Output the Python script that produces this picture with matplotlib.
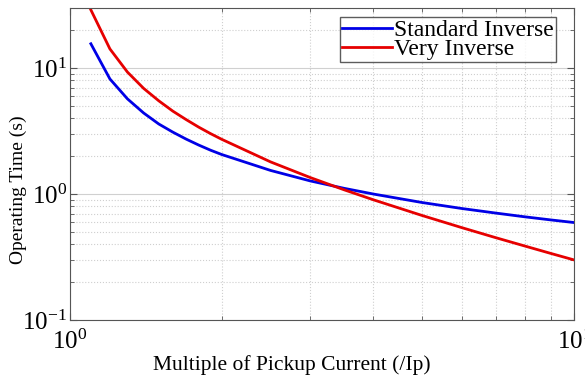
import matplotlib
matplotlib.use("Agg")
import matplotlib.pyplot as plt
from matplotlib.ticker import LogLocator, NullFormatter

plt.rcParams['font.family'] = ['Liberation Serif', 'DejaVu Serif']
plt.rcParams['mathtext.fontset'] = 'stix'

# multiple of pickup current
multiple = [1.1, 1.2, 1.3, 1.4, 1.5, 1.6, 1.7, 1.8, 1.9, 2.0,
            2.5, 3.0, 3.5, 4.0, 5.0, 6.0, 7.0, 8.0, 9.0, 10.0]
# operating times (s)
standard_inverse = [15.6, 8.2, 5.7, 4.4, 3.6, 3.1, 2.73, 2.45, 2.23, 2.06,
                    1.54, 1.27, 1.11, 1.0, 0.856, 0.767, 0.706, 0.659, 0.623, 0.594]
very_inverse = [29.0, 14.2, 9.3, 6.9, 5.5, 4.55, 3.9, 3.4, 3.02, 2.72,
                1.8, 1.35, 1.08, 0.9, 0.675, 0.54, 0.45, 0.386, 0.3375, 0.3]

fig = plt.figure(figsize=(5.85, 3.76), dpi=100)
ax = fig.add_axes([70/585, 1 - 320/376, 504/585, 312/376])

ax.plot(multiple, standard_inverse, color='#0000e6', lw=2.0, label='Standard Inverse')
ax.plot(multiple, very_inverse, color='#e60000', lw=2.0, label='Very Inverse')

ax.set_xscale('log')
ax.set_yscale('log')
ax.set_xlim(1, 10)
ax.set_ylim(0.1, 30)

ax.xaxis.set_minor_locator(LogLocator(base=10, subs=range(2, 10)))
ax.yaxis.set_minor_locator(LogLocator(base=10, subs=range(2, 10)))
ax.xaxis.set_minor_formatter(NullFormatter())
ax.yaxis.set_minor_formatter(NullFormatter())

ax.grid(True, which='major', color='#d0d0d0', lw=0.8, ls='-')
ax.grid(True, which='minor', color='#cfcfcf', lw=0.8, ls=':')
ax.set_axisbelow(True)

ax.tick_params(which='both', direction='in', top=True, right=True,
               labelsize=18, color='#555555')
ax.tick_params(axis='x', pad=7)
ax.tick_params(axis='y', pad=2)
ax.tick_params(which='major', length=5)
ax.tick_params(which='minor', length=3)
for s in ax.spines.values():
    s.set_color('#555555')

ax.set_xlabel('Multiple of Pickup Current (/Ip)', fontsize=15.5)
ax.set_ylabel('Operating Time (s)', fontsize=14)
ax.xaxis.set_label_coords(0.44, -0.112)
ax.yaxis.set_label_coords(-0.085, 0.417)

leg = ax.legend(loc='upper right', bbox_to_anchor=(556/585, 1 - 17/376),
                bbox_transform=fig.transFigure, fontsize=17, frameon=True,
                fancybox=False, borderpad=0.1, labelspacing=-0.1,
                handlelength=2.1, handletextpad=0.1, borderaxespad=0.0)
leg.get_frame().set_edgecolor('#333333')
leg.get_frame().set_linewidth(1.0)

fig.savefig('out.png', dpi=100)
